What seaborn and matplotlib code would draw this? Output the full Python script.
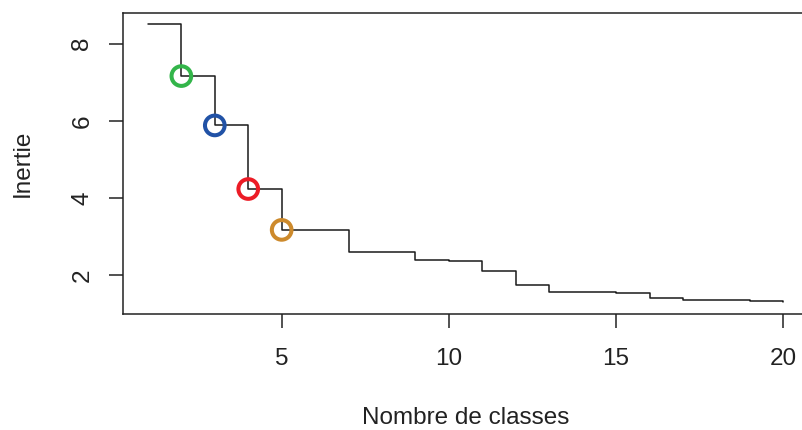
import matplotlib
matplotlib.use("Agg")
import matplotlib.pyplot as plt
import seaborn as sns
import numpy as np
import pandas as pd

# Data
nb_classes = list(range(1, 21))
inertie = [8.52, 7.16, 5.88, 4.23, 3.17, 3.165, 2.60, 2.595, 2.40, 2.37,
           2.10, 1.73, 1.57, 1.565, 1.53, 1.39, 1.345, 1.34, 1.335, 1.29]
highlight_k = [2, 3, 4, 5]
highlight_colors = ["#33b54a", "#2152a6", "#ec1c26", "#cd8a2c"]

x_ticks = [5, 10, 15, 20]
y_ticks = [2, 4, 6, 8]

sns.set_style("white")
plt.rcParams["font.family"] = ["Liberation Sans", "DejaVu Sans"]

fig = plt.figure(figsize=(8.02, 4.30), dpi=100)
ax = fig.add_axes([122.5 / 802, 116.5 / 430, (808.7 - 122.5) / 802, 301 / 430])

df = pd.DataFrame({"k": nb_classes, "inertie": inertie})
sns.lineplot(data=df, x="k", y="inertie", drawstyle="steps-post",
             color="#1a1a1a", linewidth=1.1, ax=ax, zorder=2)

hl = df[df["k"].isin(highlight_k)]
ax.scatter(hl["k"], hl["inertie"], s=200, facecolors="none",
           edgecolors=highlight_colors, linewidths=2.9, zorder=3)

xr = max(nb_classes) - min(nb_classes)
yr = max(inertie) - min(inertie)
ax.set_xlim(min(nb_classes) - 0.04 * xr, max(nb_classes) + 0.04 * xr)
ax.set_ylim(min(inertie) - 0.04 * yr, max(inertie) + 0.04 * yr)

ax.set_xticks(x_ticks)
ax.set_yticks(y_ticks)
ax.set_xticklabels([str(v) for v in x_ticks])
ax.set_yticklabels([str(v) for v in y_ticks], rotation=90, va="center")

ax.tick_params(axis="both", which="major", direction="out", length=10,
               width=1.1, color="#222222", labelsize=17.5, labelcolor="#222222",
               bottom=True, left=True)
ax.tick_params(axis="x", pad=14.5)
ax.tick_params(axis="y", pad=11)

for sp in ax.spines.values():
    sp.set_visible(True)
    sp.set_color("#222222")
    sp.set_linewidth(1.1)

ax.set_xlabel("Nombre de classes", fontsize=17.5, color="#222222")
ax.set_ylabel("Inertie", fontsize=17.5, color="#222222")
ax.xaxis.set_label_coords(0.5, (313.5 - 418.5) / 301)
ax.xaxis.label.set_va("center")
ax.yaxis.set_label_coords((22.7 - 122.5) / 686.2, 0.5)
ax.yaxis.label.set_va("center")

fig.savefig("out.png", dpi=100, facecolor="white")
